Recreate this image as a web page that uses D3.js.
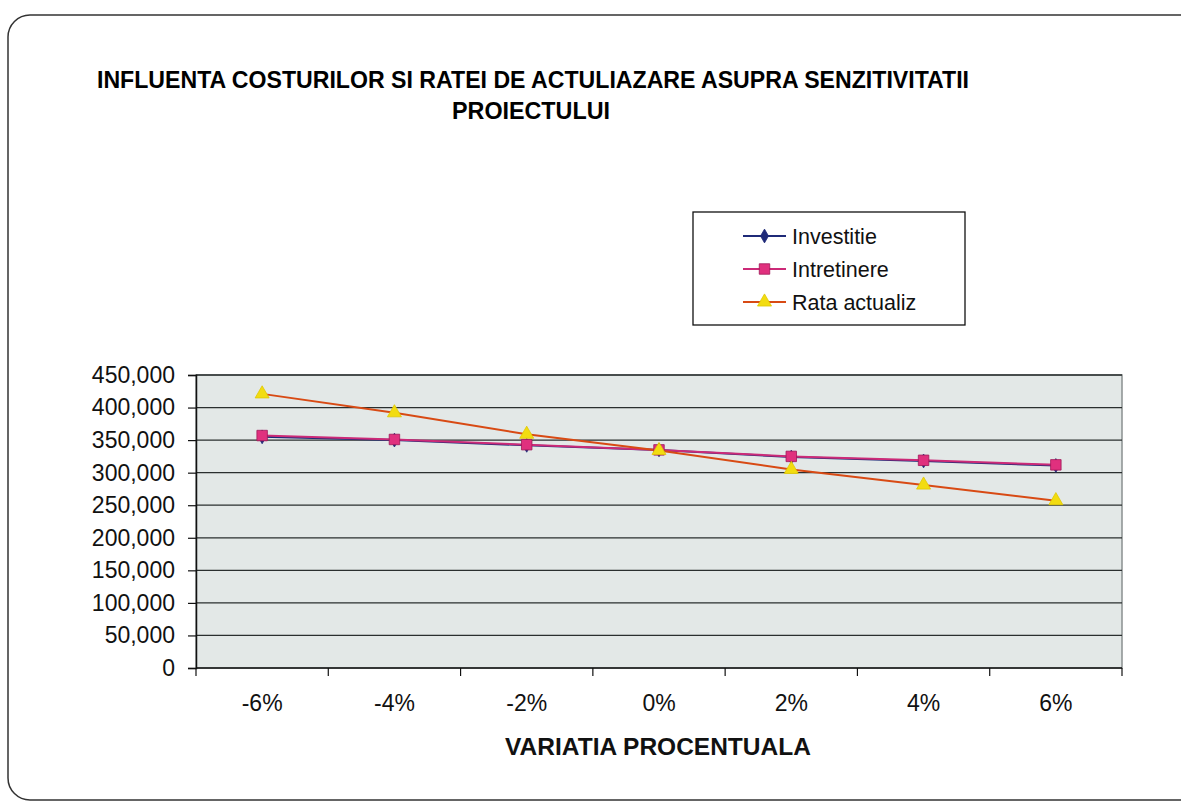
<!DOCTYPE html>
<html>
<head>
<meta charset="utf-8">
<script src="https://cdn.jsdelivr.net/npm/d3@7"></script>
<style>
  body { margin: 0; background: #fff; }
  svg { display: block; font-family: "Liberation Sans", Arial, sans-serif; }
</style>
</head>
<body>
<div id="graph"></div>
<script>
// categories and series
var categories = ["-6%", "-4%", "-2%", "0%", "2%", "4%", "6%"];
var investitie = [355000, 350000, 342000, 335000, 324000, 318000, 311000];
var intretinere = [357000, 351000, 343000, 335000, 325000, 319000, 312000];
var rataActualiz = [421000, 392000, 359000, 334000, 305000, 281000, 257000];
var yTicks = [0, 50000, 100000, 150000, 200000, 250000, 300000, 350000, 400000, 450000];

var series = [
  { name: "Investitie", values: investitie, line: "#1f2a78", fill: "#1f2a78", marker: "diamond" },
  { name: "Intretinere", values: intretinere, line: "#cc2a78", fill: "#e0307e", marker: "square" },
  { name: "Rata actualiz", values: rataActualiz, line: "#d84a14", fill: "#f2dc10", marker: "triangle" }
];

var width = 1181, height = 810;
var margin = { top: 375, right: 59, bottom: 142, left: 196 };

var svg = d3.select("#graph")
  .append("svg")
    .attr("width", width)
    .attr("height", height);

// outer rounded frame
svg.append("rect")
  .attr("x", 8).attr("y", 15)
  .attr("width", 1200).attr("height", 785)
  .attr("rx", 22)
  .attr("fill", "none")
  .attr("stroke", "#333")
  .attr("stroke-width", 1.5);

// title (condensed bold, like the scan)
svg.append("text")
  .attr("x", 533).attr("y", 88)
  .attr("text-anchor", "middle")
  .attr("font-weight", "bold")
  .attr("font-size", 23)
  .attr("textLength", 872)
  .attr("lengthAdjust", "spacingAndGlyphs")
  .text("INFLUENTA COSTURILOR SI RATEI DE ACTULIAZARE ASUPRA SENZITIVITATII");
svg.append("text")
  .attr("x", 531).attr("y", 119)
  .attr("text-anchor", "middle")
  .attr("font-weight", "bold")
  .attr("font-size", 23)
  .attr("textLength", 158)
  .attr("lengthAdjust", "spacingAndGlyphs")
  .text("PROIECTULUI");

// scales
var x = d3.scaleBand()
  .domain(categories)
  .range([margin.left, width - margin.right])
  .padding(0);

var y = d3.scaleLinear()
  .domain([0, 450000])
  .range([height - margin.bottom, margin.top]);

// plot area
svg.append("rect")
  .attr("x", x.range()[0])
  .attr("y", y(450000))
  .attr("width", x.range()[1] - x.range()[0])
  .attr("height", y(0) - y(450000))
  .attr("fill", "#e3e8e7")
  .attr("stroke", "#8a9090")
  .attr("stroke-width", 1.5);

// gridlines
svg.append("g")
  .selectAll("line")
  .data(yTicks.filter(function(d) { return d > 0; }))
  .enter()
  .append("line")
    .attr("x1", x.range()[0])
    .attr("x2", x.range()[1])
    .attr("y1", function(d) { return y(d); })
    .attr("y2", function(d) { return y(d); })
    .attr("stroke", "#2a2f2f")
    .attr("stroke-width", 1.3);

// Y axis
var yAxis = svg.append("g")
  .attr("transform", "translate(" + x.range()[0] + ",0)")
  .call(d3.axisLeft(y).tickValues(yTicks).tickFormat(d3.format(",")).tickSize(8).tickPadding(13));
yAxis.select(".domain").attr("stroke", "#111").attr("stroke-width", 1.5);
yAxis.selectAll(".tick line").attr("stroke", "#111").attr("stroke-width", 1.2);
yAxis.selectAll("text")
  .attr("font-size", 23)
  .attr("fill", "#111")
  .attr("font-family", "Liberation Sans, Arial, sans-serif");

// X axis: ticks between categories, labels at band centers
var xBase = y(0);
svg.append("line")
  .attr("x1", x.range()[0]).attr("x2", x.range()[1])
  .attr("y1", xBase).attr("y2", xBase)
  .attr("stroke", "#111").attr("stroke-width", 1.5);

var edges = categories.map(function(c) { return x(c); }).concat([x.range()[1]]);
svg.append("g")
  .selectAll("line")
  .data(edges)
  .enter()
  .append("line")
    .attr("x1", function(d) { return d; })
    .attr("x2", function(d) { return d; })
    .attr("y1", xBase)
    .attr("y2", xBase + 8)
    .attr("stroke", "#111")
    .attr("stroke-width", 1.2);

svg.append("g")
  .selectAll("text")
  .data(categories)
  .enter()
  .append("text")
    .attr("x", function(d) { return x(d) + x.bandwidth() / 2; })
    .attr("y", 711)
    .attr("text-anchor", "middle")
    .attr("font-size", 23)
    .attr("fill", "#111")
    .text(function(d) { return d; });

// X axis title
svg.append("text")
  .attr("x", 658).attr("y", 755)
  .attr("text-anchor", "middle")
  .attr("font-weight", "bold")
  .attr("font-size", 24.5)
  .attr("fill", "#111")
  .text("VARIATIA PROCENTUALA");

// marker shapes
function markerPath(type) {
  if (type == "diamond") return d3.symbol().type(d3.symbolDiamond).size(55)();
  if (type == "square") return d3.symbol().type(d3.symbolSquare).size(110)();
  return d3.symbol().type(d3.symbolTriangle).size(85)();
}

function markerStroke(s) {
  if (s.marker == "square") return "#a01858";
  if (s.marker == "triangle") return "#e0c800";
  return s.fill;
}

var line = d3.line()
  .x(function(d, i) { return x(categories[i]) + x.bandwidth() / 2; })
  .y(function(d) { return y(d); });

series.forEach(function(s) {
  svg.append("path")
    .datum(s.values)
    .attr("fill", "none")
    .attr("stroke", s.line)
    .attr("stroke-width", 2)
    .attr("d", line);
});

series.forEach(function(s) {
  svg.append("g")
    .selectAll("path")
    .data(s.values)
    .enter()
    .append("path")
      .attr("d", markerPath(s.marker))
      .attr("transform", function(d, i) {
        return "translate(" + (x(categories[i]) + x.bandwidth() / 2) + "," + y(d) + ")";
      })
      .attr("fill", s.fill)
      .attr("stroke", markerStroke(s))
      .attr("stroke-width", 0.8);
});

// legend
var legend = svg.append("g").attr("transform", "translate(693,212)");
legend.append("rect")
  .attr("width", 272).attr("height", 113)
  .attr("fill", "#fff")
  .attr("stroke", "#111")
  .attr("stroke-width", 1.3);

series.forEach(function(s, i) {
  var row = legend.append("g").attr("transform", "translate(0," + (24 + i * 33) + ")");
  row.append("line")
    .attr("x1", 50).attr("x2", 93)
    .attr("y1", 0).attr("y2", 0)
    .attr("stroke", s.line)
    .attr("stroke-width", 2);
  row.append("path")
    .attr("d", markerPath(s.marker))
    .attr("transform", "translate(71.5,0)")
    .attr("fill", s.fill)
    .attr("stroke", markerStroke(s))
    .attr("stroke-width", 0.8);
  row.append("text")
    .attr("x", 99).attr("y", 8)
    .attr("font-size", 21.5)
    .attr("fill", "#111")
    .text(s.name);
});
</script>
</body>
</html>
